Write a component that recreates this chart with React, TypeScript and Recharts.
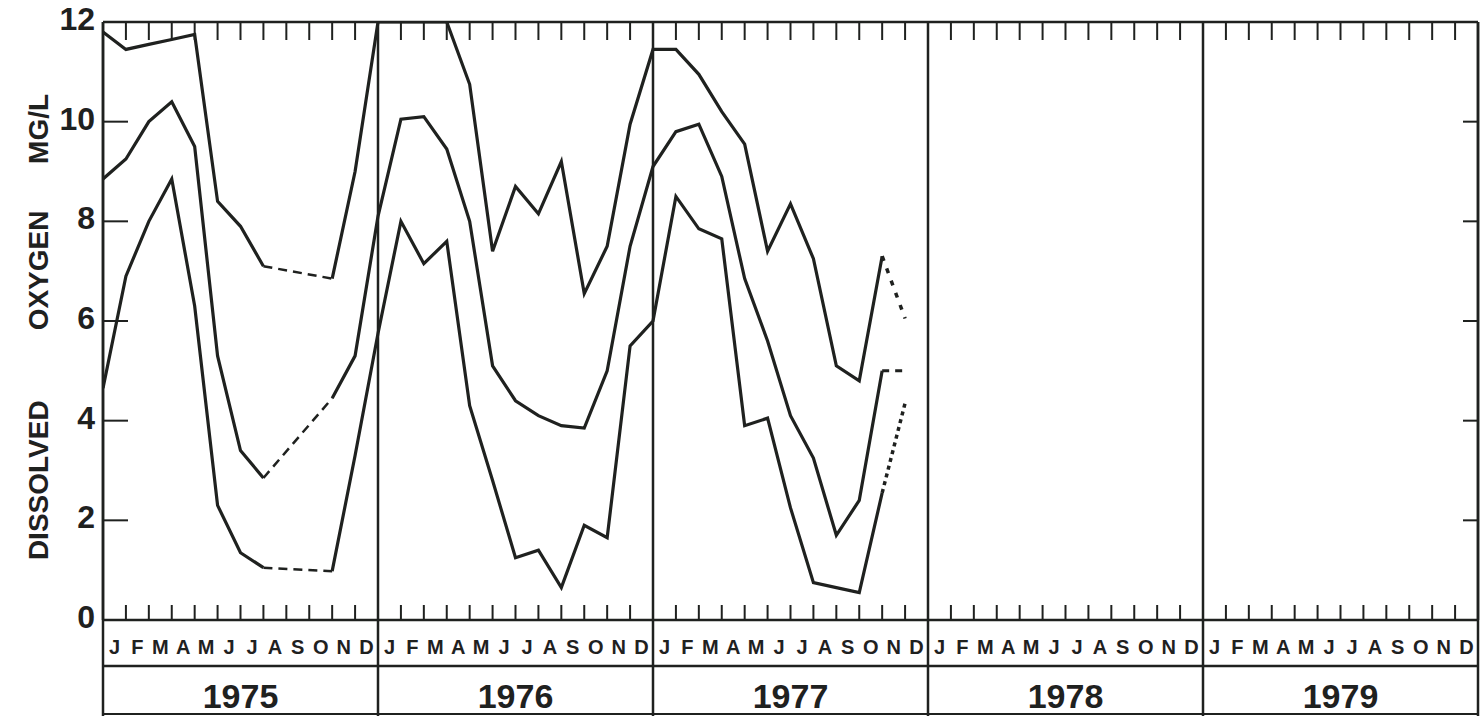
import { LineChart, Line, XAxis, YAxis, ReferenceLine } from "recharts";

const INK = "#1f211f";
const FONT = "'Liberation Sans', Arial, sans-serif";

const MONTHS = ["J", "F", "M", "A", "M", "J", "J", "A", "S", "O", "N", "D"];
const YEARS = ["1975", "1976", "1977", "1978", "1979"];
const DO_TICKS = [0, 2, 4, 6, 8, 10, 12];
const INNER_TICKS = [2, 4, 6, 8, 10];

// dissolved oxygen mg/l, one value per month Jan 1975 .. Dec 1977 (null = no reading)
const upperDO = [
  11.8, 11.45, 11.55, 11.65, 11.75, 8.4, 7.9, 7.1, null, null, 6.85, 9.0,
  12, 12, 12, 12, 10.75, 7.4, 8.7, 8.15, 9.2, 6.55, 7.5, 9.95,
  11.45, 11.45, 10.95, 10.2, 9.55, 7.4, 8.35, 7.25, 5.1, 4.8, 7.3, 6.05,
];
const middleDO = [
  8.85, 9.25, 10.0, 10.4, 9.5, 5.3, 3.4, 2.85, null, null, 4.45, 5.3,
  8.1, 10.05, 10.1, 9.45, 8.0, 5.1, 4.4, 4.1, 3.9, 3.85, 5.0, 7.5,
  9.1, 9.8, 9.95, 8.9, 6.85, 5.6, 4.1, 3.25, 1.7, 2.4, 5.0, 5.0,
];
const lowerDO = [
  4.65, 6.9, 8.0, 8.85, 6.3, 2.3, 1.35, 1.05, null, null, 0.98, 3.3,
  5.75, 8.0, 7.15, 7.6, 4.3, 2.8, 1.25, 1.4, 0.65, 1.9, 1.65, 5.5,
  6.0, 8.5, 7.85, 7.65, 3.9, 4.05, 2.25, 0.75, 0.65, 0.55, 2.55, 4.35,
];

// estimated stretches, drawn broken
const EST_1975 = [7, 10];
const EST_1977 = [34, 35];

const SERIES: [string, (number | null)[]][] = [
  ["upper", upperDO],
  ["middle", middleDO],
  ["lower", lowerDO],
];

const inSpan = (i: number, span: number[]) => i >= span[0] && i <= span[1];

const rows = upperDO.map((_, i) => {
  const r: Record<string, number | null> = { m: i };
  for (const [key, arr] of SERIES) {
    r[key] = i <= EST_1977[0] ? arr[i] : null;
    r[key + "75"] = inSpan(i, EST_1975) ? arr[i] : null;
    r[key + "77"] = inSpan(i, EST_1977) ? arr[i] : null;
  }
  return r;
});

const SPAN = YEARS.length * 12;
const monthTicks = YEARS.flatMap((_, y) => MONTHS.map((_, k) => y * 12 + k + 0.5));
const boundTicks = Array.from({ length: SPAN - 1 }, (_, i) => i + 1);
const yearTicks = YEARS.map((_, y) => y * 12 + 6);
const dividers = Array.from({ length: YEARS.length + 1 }, (_, y) => y * 12);

function MonthTick({ x, y, payload }: any) {
  return (
    <text x={x} y={y + 32} textAnchor="middle" fontFamily={FONT} fontWeight={700} fontSize={20} fill={INK}>
      {MONTHS[Math.floor(payload.value) % 12]}
    </text>
  );
}

function YearTick({ x, y, payload }: any) {
  return (
    <text x={x} y={y + 40} textAnchor="middle" fontFamily={FONT} fontWeight={700} fontSize={34} fill={INK}>
      {YEARS[Math.round((payload.value - 6) / 12)]}
    </text>
  );
}

function DoTick({ x, y, payload }: any) {
  return (
    <text x={x} y={y + 8} textAnchor="end" fontFamily={FONT} fontWeight={700} fontSize={32} fill={INK}>
      {payload.value}
    </text>
  );
}

function YTitle({ viewBox }: any) {
  const cx = viewBox.x + 38;
  const cy = viewBox.y + viewBox.height / 2 + 6;
  return (
    <text
      x={cx}
      y={cy}
      transform={`rotate(-90 ${cx} ${cy})`}
      textAnchor="middle"
      dominantBaseline="central"
      fontFamily={FONT}
      fontWeight={700}
      fontSize={28}
      fill={INK}
      style={{ whiteSpace: "pre" }}
    >
      {"DISSOLVED         OXYGEN      MG/L"}
    </text>
  );
}

const blank = () => "";

export default function App() {
  return (
    <div style={{ position: "absolute", left: 0, top: 0, width: 1481, height: 716, background: "#fff" }}>
      <LineChart width={1481} height={716} data={rows} margin={{ top: 22, right: 3, bottom: 0, left: 0 }}>
        <XAxis
          xAxisId="a-month"
          type="number"
          dataKey="m"
          domain={[0, SPAN]}
          allowDataOverflow
          ticks={monthTicks}
          interval={0}
          tick={<MonthTick />}
          tickLine={false}
          tickSize={0}
          axisLine={{ stroke: INK, strokeWidth: 2.5 }}
          height={46}
        />
        <XAxis
          xAxisId="b-year"
          type="number"
          dataKey="m"
          domain={[0, SPAN]}
          allowDataOverflow
          ticks={yearTicks}
          interval={0}
          tick={<YearTick />}
          tickLine={false}
          tickSize={0}
          axisLine={{ stroke: INK, strokeWidth: 2.5 }}
          height={48}
        />
        <XAxis
          xAxisId="c-base"
          type="number"
          dataKey="m"
          domain={[0, SPAN]}
          allowDataOverflow
          ticks={[0]}
          tickFormatter={blank}
          tickLine={false}
          axisLine={{ stroke: INK, strokeWidth: 2 }}
          height={2}
        />
        <XAxis
          xAxisId="d-bounds"
          type="number"
          dataKey="m"
          domain={[0, SPAN]}
          allowDataOverflow
          mirror
          height={20}
          ticks={boundTicks}
          interval={0}
          tickSize={15}
          tickFormatter={blank}
          tickLine={{ stroke: INK, strokeWidth: 2 }}
          axisLine={false}
        />
        <XAxis
          xAxisId="e-top"
          orientation="top"
          type="number"
          dataKey="m"
          domain={[0, SPAN]}
          allowDataOverflow
          mirror
          height={20}
          ticks={boundTicks}
          interval={0}
          tickSize={18}
          tickFormatter={blank}
          tickLine={{ stroke: INK, strokeWidth: 2 }}
          axisLine={{ stroke: INK, strokeWidth: 2.5 }}
        />
        <YAxis
          yAxisId="left"
          type="number"
          domain={[0, 12]}
          allowDataOverflow
          ticks={DO_TICKS}
          interval={0}
          width={103}
          tick={<DoTick />}
          tickLine={false}
          tickSize={0}
          tickMargin={8}
          axisLine={{ stroke: INK, strokeWidth: 2.5 }}
          label={<YTitle />}
        />
        <YAxis
          yAxisId="leftIn"
          type="number"
          domain={[0, 12]}
          allowDataOverflow
          mirror
          width={30}
          ticks={INNER_TICKS}
          interval={0}
          tickSize={25}
          tickFormatter={blank}
          tickLine={{ stroke: INK, strokeWidth: 2 }}
          axisLine={false}
        />
        <YAxis
          yAxisId="right"
          orientation="right"
          type="number"
          domain={[0, 12]}
          allowDataOverflow
          mirror
          width={20}
          ticks={INNER_TICKS}
          interval={0}
          tickSize={15}
          tickFormatter={blank}
          tickLine={{ stroke: INK, strokeWidth: 2 }}
          axisLine={{ stroke: INK, strokeWidth: 2.5 }}
        />

        {dividers.map((x) => (
          <ReferenceLine
            key={x}
            xAxisId="a-month"
            yAxisId="left"
            segment={[{ x, y: 12 }, { x, y: -2 }]}
            ifOverflow="visible"
            stroke={INK}
            strokeWidth={2.5}
          />
        ))}

        {SERIES.map(([key]) => (
          <Line
            key={key}
            xAxisId="a-month"
            yAxisId="left"
            dataKey={key}
            type="linear"
            stroke={INK}
            strokeWidth={3.2}
            dot={false}
            activeDot={false}
            isAnimationActive={false}
          />
        ))}
        {SERIES.map(([key]) => (
          <Line
            key={key + "75"}
            xAxisId="a-month"
            yAxisId="left"
            dataKey={key + "75"}
            type="linear"
            stroke={INK}
            strokeWidth={2.5}
            strokeDasharray="9 6"
            connectNulls
            dot={false}
            activeDot={false}
            isAnimationActive={false}
          />
        ))}
        <Line xAxisId="a-month" yAxisId="left" dataKey="upper77" type="linear" stroke={INK} strokeWidth={3.5}
          strokeDasharray="5 8" dot={false} activeDot={false} isAnimationActive={false} />
        <Line xAxisId="a-month" yAxisId="left" dataKey="middle77" type="linear" stroke={INK} strokeWidth={3}
          strokeDasharray="7 6" dot={false} activeDot={false} isAnimationActive={false} />
        <Line xAxisId="a-month" yAxisId="left" dataKey="lower77" type="linear" stroke={INK} strokeWidth={3.5}
          strokeDasharray="4 4" dot={false} activeDot={false} isAnimationActive={false} />
      </LineChart>
    </div>
  );
}
